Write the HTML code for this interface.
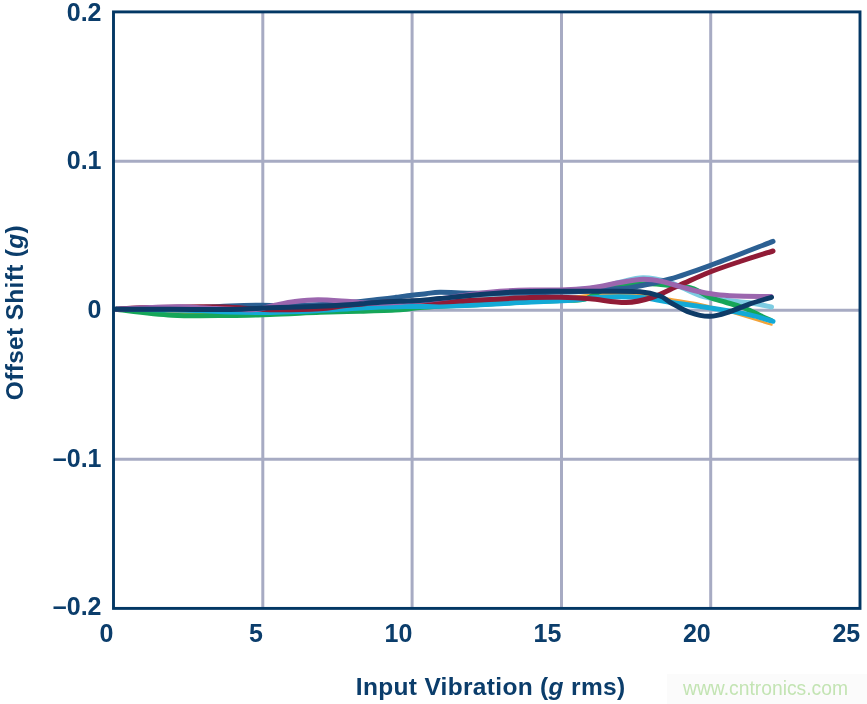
<!DOCTYPE html>
<html><head><meta charset="utf-8"><style>
html,body{margin:0;padding:0;background:#fff;}
body{width:867px;height:704px;overflow:hidden;position:relative;}
svg{position:absolute;left:0;top:0;will-change:transform;}
.t{font-family:"Liberation Sans",Arial,Helvetica,sans-serif;font-weight:bold;font-size:24.5px;fill:#0B3D6B;}
.k{font-size:25px;}
.ti{letter-spacing:0.32px;}
.w{font-family:"Liberation Sans",Arial,Helvetica,sans-serif;font-size:19.3px;fill:#C3E4B3;}
</style></head><body>
<svg width="867" height="704" viewBox="0 0 867 704">
<rect x="667" y="674" width="200" height="30" fill="#FBFBFB"/>
<g stroke="#A7ABC3" stroke-width="3" fill="none">
<line x1="262.8" y1="11.9" x2="262.8" y2="608.4"/>
<line x1="412.1" y1="11.9" x2="412.1" y2="608.4"/>
<line x1="561.5" y1="11.9" x2="561.5" y2="608.4"/>
<line x1="710.7" y1="11.9" x2="710.7" y2="608.4"/>
<line x1="113.5" y1="161.2" x2="860" y2="161.2"/>
<line x1="113.5" y1="310.2" x2="860" y2="310.2"/>
<line x1="113.5" y1="459.3" x2="860" y2="459.3"/>
</g>
<g fill="none" stroke-linecap="round" stroke-linejoin="round">
<path d="M116.0,309.3 C130.0,309.2 169.3,309.6 200.0,309.0 C230.7,308.4 266.7,307.2 300.0,306.0 C333.3,304.8 366.7,303.7 400.0,302.0 C433.3,300.3 473.3,297.8 500.0,296.0 C526.7,294.2 543.3,292.5 560.0,291.0 C576.7,289.5 590.0,288.6 600.0,287.2 C610.0,285.8 612.8,283.9 620.0,282.3 C627.2,280.7 634.7,277.8 643.0,277.8 C651.3,277.8 660.5,279.6 670.0,282.5 C679.5,285.4 690.0,292.4 700.0,295.5 C710.0,298.6 721.7,299.6 730.0,300.8 C738.3,302.0 743.1,301.8 750.0,302.8 C756.9,303.8 767.9,306.3 771.5,307.0" stroke="#7DCCE2" stroke-width="5"/>
<path d="M116.0,309.3 C121.7,309.7 137.7,311.1 150.0,311.8 C162.3,312.5 176.7,313.2 190.0,313.5 C203.3,313.8 215.0,314.0 230.0,313.8 C245.0,313.6 261.7,313.1 280.0,312.5 C298.3,311.9 313.3,311.1 340.0,310.0 C366.7,308.9 410.0,307.2 440.0,306.0 C470.0,304.8 498.3,304.0 520.0,302.5 C541.7,301.0 556.7,298.3 570.0,297.0 C583.3,295.7 588.3,294.9 600.0,294.5 C611.7,294.1 628.3,293.8 640.0,294.5 C651.7,295.2 658.3,297.0 670.0,299.0 C681.7,301.0 693.1,302.1 710.0,306.4 C726.9,310.7 761.2,321.6 771.5,324.6" stroke="#F2A33A" stroke-width="2.4"/>
<path d="M116.0,309.3 C125.3,310.3 153.0,314.2 172.0,315.2 C191.0,316.2 213.7,315.6 230.0,315.5 C246.3,315.4 255.0,315.0 270.0,314.5 C285.0,314.0 305.0,312.9 320.0,312.3 C335.0,311.8 346.7,311.6 360.0,311.2 C373.3,310.8 390.0,310.4 400.0,309.8 C410.0,309.2 413.3,308.1 420.0,307.5 C426.7,306.9 430.0,306.7 440.0,306.2 C450.0,305.7 466.7,305.2 480.0,304.5 C493.3,303.8 506.7,302.9 520.0,302.2 C533.3,301.5 549.2,301.0 560.0,300.5 C570.8,300.0 577.5,300.9 585.0,299.0 C592.5,297.1 597.5,291.4 605.0,289.0 C612.5,286.6 622.5,285.6 630.0,284.7 C637.5,283.8 643.3,283.7 650.0,283.8 C656.7,283.9 663.3,284.8 670.0,285.5 C676.7,286.2 685.0,286.7 690.0,287.8 C695.0,288.9 696.7,290.4 700.0,292.0 C703.3,293.6 705.8,295.8 710.0,297.5 C714.2,299.2 720.0,300.5 725.0,302.0 C730.0,303.5 735.8,305.1 740.0,306.5 C744.2,307.9 746.7,309.0 750.0,310.5 C753.3,312.0 756.5,313.8 760.0,315.5 C763.5,317.2 769.2,319.7 771.0,320.5" stroke="#16A659" stroke-width="5.0"/>
<path d="M116.0,309.3 C123.3,309.4 146.0,309.6 160.0,309.8 C174.0,310.0 188.3,310.2 200.0,310.6 C211.7,311.0 218.3,311.7 230.0,312.0 C241.7,312.3 258.3,312.5 270.0,312.4 C281.7,312.3 288.3,312.0 300.0,311.5 C311.7,311.0 326.7,310.1 340.0,309.3 C353.3,308.6 369.2,307.4 380.0,307.0 C390.8,306.6 395.0,306.7 405.0,306.6 C415.0,306.5 430.0,306.4 440.0,306.2 C450.0,306.0 455.0,306.0 465.0,305.6 C475.0,305.2 490.8,304.3 500.0,303.8 C509.2,303.3 508.3,303.1 520.0,302.5 C531.7,301.9 556.7,301.2 570.0,300.3 C583.3,299.4 588.3,297.8 600.0,297.3 C611.7,296.8 628.3,296.7 640.0,297.5 C651.7,298.3 656.7,300.2 670.0,302.2 C683.3,304.2 706.7,307.3 720.0,309.4 C733.3,311.5 741.2,312.9 750.0,314.9 C758.8,316.9 769.2,320.2 773.0,321.3" stroke="#13A9D6" stroke-width="5.0"/>
<path d="M116.0,309.3 C123.3,309.2 146.0,309.3 160.0,309.0 C174.0,308.7 188.3,308.0 200.0,307.5 C211.7,307.0 220.0,306.4 230.0,306.0 C240.0,305.6 248.3,305.3 260.0,305.2 C271.7,305.1 285.0,306.0 300.0,305.6 C315.0,305.2 336.7,303.7 350.0,302.6 C363.3,301.6 372.3,300.2 380.0,299.3 C387.7,298.4 390.7,298.0 396.0,297.3 C401.3,296.6 407.0,295.8 412.0,295.2 C417.0,294.6 421.3,294.2 426.0,293.7 C430.7,293.2 432.7,292.3 440.0,292.2 C447.3,292.1 460.0,293.0 470.0,293.2 C480.0,293.4 488.3,293.3 500.0,293.2 C511.7,293.1 526.7,292.8 540.0,292.5 C553.3,292.2 568.3,292.1 580.0,291.5 C591.7,290.9 601.7,289.6 610.0,289.0 C618.3,288.4 620.0,289.4 630.0,287.7 C640.0,286.0 656.7,282.7 670.0,279.0 C683.3,275.3 692.8,271.8 710.0,265.5 C727.2,259.2 762.5,245.4 773.0,241.4" stroke="#2C6093" stroke-width="5.0"/>
<path d="M116.0,309.3 C120.0,309.1 126.0,308.2 140.0,307.8 C154.0,307.4 185.0,306.9 200.0,306.8 C215.0,306.7 220.8,306.8 230.0,307.2 C239.2,307.6 246.7,308.6 255.0,309.0 C263.3,309.4 269.2,309.8 280.0,309.8 C290.8,309.8 310.0,309.4 320.0,308.8 C330.0,308.2 333.3,307.0 340.0,306.2 C346.7,305.4 353.3,304.8 360.0,304.2 C366.7,303.6 373.3,302.9 380.0,302.4 C386.7,301.9 393.3,301.6 400.0,301.4 C406.7,301.2 413.3,301.1 420.0,301.2 C426.7,301.3 431.7,302.0 440.0,301.9 C448.3,301.8 460.0,300.9 470.0,300.4 C480.0,299.9 490.0,299.4 500.0,298.9 C510.0,298.4 520.0,297.9 530.0,297.6 C540.0,297.3 550.0,297.1 560.0,297.3 C570.0,297.5 579.0,297.9 590.0,298.8 C601.0,299.7 615.7,302.7 626.0,302.5 C636.3,302.3 643.0,300.4 652.0,297.5 C661.0,294.6 670.3,289.2 680.0,285.0 C689.7,280.8 700.0,275.9 710.0,272.0 C720.0,268.1 729.5,265.0 740.0,261.5 C750.5,258.0 767.5,252.8 773.0,251.0" stroke="#901B36" stroke-width="5.0"/>
<path d="M116.0,309.3 C121.7,309.0 139.3,308.0 150.0,307.6 C160.7,307.2 170.0,306.7 180.0,306.8 C190.0,306.9 200.0,307.8 210.0,308.3 C220.0,308.8 232.0,309.5 240.0,309.6 C248.0,309.8 252.2,309.9 258.0,309.2 C263.8,308.5 268.8,306.6 275.0,305.3 C281.2,304.0 287.8,302.4 295.0,301.5 C302.2,300.6 308.8,299.8 318.0,299.8 C327.2,299.8 340.5,301.0 350.0,301.6 C359.5,302.2 366.7,303.2 375.0,303.3 C383.3,303.4 391.7,302.6 400.0,302.2 C408.3,301.8 416.7,301.4 425.0,300.6 C433.3,299.8 441.8,298.7 450.0,297.6 C458.2,296.5 465.7,295.1 474.0,294.0 C482.3,292.9 490.7,292.0 500.0,291.3 C509.3,290.6 520.0,290.2 530.0,290.0 C540.0,289.8 551.7,290.2 560.0,290.0 C568.3,289.8 573.3,289.6 580.0,289.0 C586.7,288.4 593.3,287.6 600.0,286.5 C606.7,285.4 612.8,283.7 620.0,282.5 C627.2,281.3 636.0,279.5 643.0,279.3 C650.0,279.1 655.7,280.2 662.0,281.5 C668.3,282.8 674.7,285.1 681.0,286.8 C687.3,288.5 693.5,290.4 700.0,291.8 C706.5,293.2 712.5,294.4 720.0,295.1 C727.5,295.9 736.5,296.1 745.0,296.3 C753.5,296.5 766.7,296.4 771.0,296.4" stroke="#9B66AE" stroke-width="5.0"/>
<path d="M116.0,309.3 C125.0,309.3 151.0,309.3 170.0,309.3 C189.0,309.3 213.3,309.6 230.0,309.4 C246.7,309.1 258.3,308.2 270.0,307.8 C281.7,307.4 291.7,307.3 300.0,307.0 C308.3,306.7 313.3,306.5 320.0,306.2 C326.7,305.9 333.3,305.6 340.0,305.2 C346.7,304.8 353.3,304.3 360.0,303.8 C366.7,303.3 373.3,302.6 380.0,302.2 C386.7,301.8 393.3,301.5 400.0,301.2 C406.7,300.9 413.3,300.8 420.0,300.4 C426.7,299.9 431.7,299.3 440.0,298.5 C448.3,297.7 460.0,296.4 470.0,295.5 C480.0,294.6 491.7,293.6 500.0,293.0 C508.3,292.4 510.0,292.0 520.0,291.7 C530.0,291.4 546.7,291.4 560.0,291.3 C573.3,291.2 586.7,291.2 600.0,291.3 C613.3,291.4 630.0,291.0 640.0,291.8 C650.0,292.6 655.0,294.3 660.0,296.0 C665.0,297.7 665.0,299.4 670.0,302.2 C675.0,304.9 683.3,310.1 690.0,312.5 C696.7,314.9 703.3,316.5 710.0,316.3 C716.7,316.1 723.3,313.6 730.0,311.5 C736.7,309.4 743.1,306.2 750.0,303.8 C756.9,301.4 767.9,298.4 771.5,297.3" stroke="#0E3B67" stroke-width="5.0"/>
</g>
<rect x="113.5" y="11.9" width="746.5" height="596.5" fill="none" stroke="#033764" stroke-width="2.9"/>
<g class="t k" text-anchor="end">
<text x="101.5" y="20.85">0.2</text>
<text x="101.5" y="169.45">0.1</text>
<text x="101.5" y="318.05">0</text>
<text x="101.5" y="466.65">–0.1</text>
<text x="101.5" y="615.25">–0.2</text>
<text x="113.5" y="642.1">0</text>
<text x="262.8" y="642.1">5</text>
<text x="412.3" y="642.1">10</text>
<text x="561.3" y="642.1">15</text>
<text x="710.7" y="642.1">20</text>
<text x="860.2" y="642.1">25</text>
</g>
<text class="t ti" x="355.8" y="694.5">Input Vibration (<tspan font-style="italic">g</tspan> rms)</text>
<text class="t ti" transform="translate(22.8,400.2) rotate(-90)">Offset Shift (<tspan font-style="italic">g</tspan>)</text>
<text class="w" x="683" y="694.5">www.cntronics.com</text>
</svg>
</body></html>
